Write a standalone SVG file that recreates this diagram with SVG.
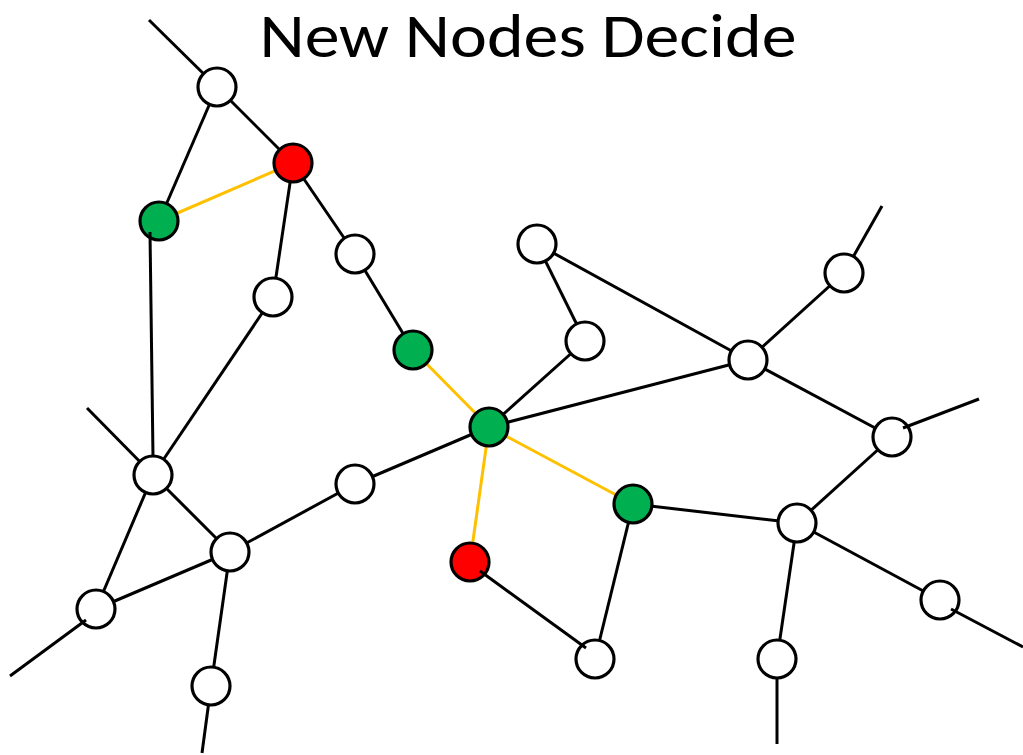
<svg xmlns="http://www.w3.org/2000/svg" width="1023" height="755" viewBox="0 0 1023 755">
<style>
.e{stroke:#000;stroke-width:3;fill:none}
.y{stroke:#FFC000;stroke-width:3;fill:none}
.n{stroke:#000;stroke-width:3.2}
.w{fill:#fff}.g{fill:#00B050}.r{fill:#FF0000}
.t{font-family:Calibri,Carlito,"Open Sans","Liberation Sans",sans-serif;font-size:62px;fill:#000}
</style>
<rect width="1023" height="755" fill="#fff"/>
<text class="t" x="528" y="57" text-anchor="middle" textLength="537" lengthAdjust="spacingAndGlyphs">New Nodes Decide</text>
<g id="connectors">
<line class="e" x1="149" y1="20" x2="217" y2="87"/>
<line class="e" x1="217" y1="87" x2="293" y2="163"/>
<line class="e" x1="217" y1="87" x2="159" y2="221"/>
<line class="e" x1="293" y1="163" x2="355" y2="254"/>
<line class="e" x1="293" y1="163" x2="273" y2="297"/>
<line class="e" x1="355" y1="254" x2="413" y2="350"/>
<line class="e" x1="273" y1="297" x2="153" y2="475"/>
<line class="e" x1="87" y1="408" x2="153" y2="475"/>
<line class="e" x1="153" y1="475" x2="230" y2="552"/>
<line class="e" x1="153" y1="475" x2="96" y2="609"/>
<line class="e" x1="96" y1="609" x2="230" y2="552"/>
<line class="e" x1="230" y1="552" x2="355" y2="484"/>
<line class="e" x1="355" y1="484" x2="489" y2="427"/>
<line class="e" x1="230" y1="552" x2="211" y2="686"/>
<line class="e" x1="211" y1="686" x2="202" y2="753"/>
<line class="e" x1="489" y1="427" x2="585" y2="341"/>
<line class="e" x1="585" y1="341" x2="537" y2="244"/>
<line class="e" x1="537" y1="244" x2="748" y2="360"/>
<line class="e" x1="489" y1="427" x2="748" y2="360"/>
<line class="e" x1="748" y1="360" x2="844" y2="273"/>
<line class="e" x1="844" y1="273" x2="882" y2="206"/>
<line class="e" x1="748" y1="360" x2="892" y2="437"/>
<line class="e" x1="892" y1="437" x2="797" y2="523"/>
<line class="e" x1="633" y1="504" x2="797" y2="523"/>
<line class="e" x1="633" y1="504" x2="595" y2="659"/>
<line class="e" x1="797" y1="523" x2="940" y2="600"/>
<line class="e" x1="797" y1="523" x2="777" y2="659"/>
<line class="e" x1="777" y1="659" x2="777" y2="744"/>
<line class="y" x1="293" y1="163" x2="159" y2="221"/>
<line class="y" x1="413" y1="350" x2="489" y2="427"/>
<line class="y" x1="489" y1="427" x2="633" y2="504"/>
<line class="y" x1="489" y1="427" x2="470" y2="562"/>
</g>
<g id="n1"><circle class="n w" cx="217" cy="87" r="19"/></g>
<g id="n2"><circle class="n r" cx="293" cy="163" r="19"/></g>
<g id="n3"><circle class="n g" cx="159" cy="221" r="19"/></g>
<g id="n4"><circle class="n w" cx="355" cy="254" r="19"/></g>
<g id="n5"><circle class="n w" cx="273" cy="297" r="19"/></g>
<g id="n6"><circle class="n w" cx="537" cy="244" r="19"/></g>
<g id="n7"><circle class="n w" cx="844" cy="273" r="19"/></g>
<g id="n8"><circle class="n w" cx="585" cy="341" r="19"/></g>
<g id="n9"><circle class="n g" cx="413" cy="350" r="19"/></g>
<g id="n10"><circle class="n w" cx="748" cy="360" r="19"/></g>
<g id="n11"><circle class="n g" cx="489" cy="427" r="19"/></g>
<g id="n12"><circle class="n w" cx="892" cy="437" r="19"/></g>
<g id="n13"><circle class="n w" cx="153" cy="475" r="19"/></g>
<g id="n14"><circle class="n w" cx="355" cy="484" r="19"/></g>
<g id="n15"><circle class="n g" cx="633" cy="504" r="19"/></g>
<g id="n16"><circle class="n w" cx="797" cy="523" r="19"/></g>
<g id="n17"><circle class="n w" cx="230" cy="552" r="19"/></g>
<g id="n18"><circle class="n r" cx="470" cy="562" r="19"/></g>
<g id="n19"><circle class="n w" cx="96" cy="609" r="19"/></g>
<g id="n20"><circle class="n w" cx="940" cy="600" r="19"/></g>
<g id="n21"><circle class="n w" cx="595" cy="659" r="19"/></g>
<g id="n22"><circle class="n w" cx="777" cy="659" r="19"/></g>
<g id="n23"><circle class="n w" cx="211" cy="686" r="19"/></g>
<g id="connectors-over">
<line class="e" x1="150" y1="232" x2="153" y2="457"/>
<line class="e" x1="10" y1="676" x2="86" y2="620"/>
<line class="e" x1="480" y1="571" x2="586" y2="648"/>
<line class="e" x1="903" y1="428" x2="979" y2="399"/>
<line class="e" x1="951" y1="609" x2="1023" y2="647"/>
</g>
</svg>
